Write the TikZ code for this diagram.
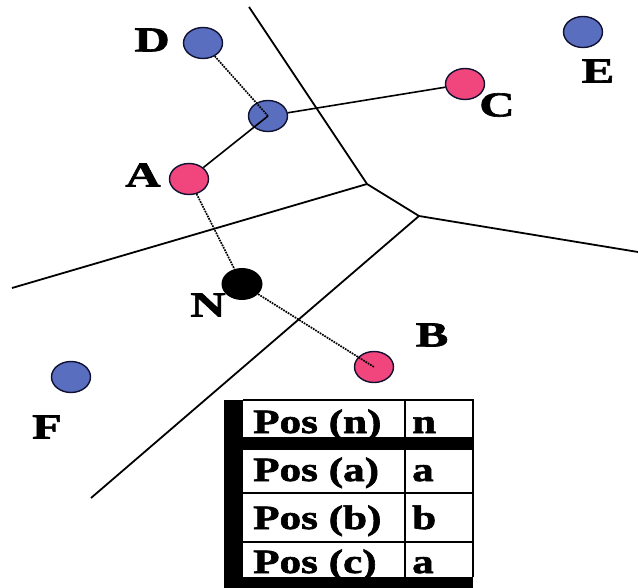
\documentclass[tikz,border=0pt]{standalone}
\usepackage{fontspec}
\usepackage{tikz}
\usetikzlibrary{shapes.geometric}
\newfontfamily\lblfont{Liberation Serif}[FakeStretch=1.4, FakeBold=1.8]
\newfontfamily\tabfont{Liberation Serif}[FakeStretch=1.27, FakeBold=1.8]
\definecolor{ptblue}{HTML}{5A6EC0}
\definecolor{ptpink}{HTML}{F0457D}
\definecolor{ptedge}{HTML}{101030}
\tikzset{
  site/.style={ellipse, draw=ptedge, line width=1.4pt, minimum width=39pt, minimum height=31pt, inner sep=0pt},
  bluept/.style={site, fill=ptblue},
  pinkpt/.style={site, fill=ptpink},
  querypt/.style={ellipse, fill=black, minimum width=41pt, minimum height=32pt, inner sep=0pt},
  ptlab/.style={font=\lblfont\bfseries\fontsize{35}{40}\selectfont, inner sep=0pt},
  edge/.style={draw=black, line width=1.8pt},
  link/.style={draw=black, line width=1.6pt},
  dlink/.style={draw=black, densely dotted, line width=1.7pt},
  cell/.style={font=\tabfont\bfseries\fontsize{34}{38}\selectfont, anchor=base west, inner sep=0pt},
  rule/.style={draw=black, line width=1.6pt}
}
\begin{document}
\begin{tikzpicture}[x=1pt, y=-1pt]
  \useasboundingbox (0,0) rectangle (638,588);

  \coordinate (V1) at (367,184);
  \coordinate (V2) at (419,216);
  \coordinate (Etop) at (249,7);
  \coordinate (Eleft) at (12,288);
  \coordinate (Eright) at (638,252);
  \coordinate (Ebot) at (91,498);

  \draw[edge] (Etop)--(V1)--(V2)--(Eright);
  \draw[edge] (Eleft)--(V1);
  \draw[edge] (V2)--(Ebot);

  \node[bluept] (D) at (203,43) {};
  \node[bluept] (mid) at (268,116) {};
  \node[pinkpt] (A) at (189,179) {};
  \node[pinkpt] (C) at (465,84) {};
  \node[bluept] (E) at (583,32) {};
  \node[querypt] (N) at (242,284) {};
  \node[pinkpt] (B) at (374,367) {};
  \node[bluept] (F) at (71,377) {};

  \draw[link] (mid)--(C);
  \draw[link] (mid.center)--(A);
  \draw[dlink] (D)--(mid.center);
  \draw[dlink] (A)--(N);
  \draw[dlink] (N)--(B.center);

  \node[ptlab] (labD) at (152,40) {D};
  \node[ptlab] (labA) at (143,175) {A};
  \node[ptlab] (labN) at (208,305) {N};
  \node[ptlab] (labC) at (497,105) {C};
  \node[ptlab] (labE) at (598,71) {E};
  \node[ptlab] (labF) at (47,427) {F};
  \node[ptlab] (labB) at (432,335) {B};

  \fill[black] (224,400) rectangle (243,588);
  \fill[black] (224,437) rectangle (473,450);
  \fill[black] (224,577) rectangle (473,588);
  \draw[rule] (243,400)--(473,400)--(473,577);
  \draw[rule] (405,400)--(405,577);
  \draw[rule] (243,493)--(473,493);
  \draw[rule] (243,542)--(473,542);

  \node[cell] (keyN) at (253,433) {Pos (n)};
  \node[cell] (valN) at (412,433) {n};
  \node[cell] (keyA) at (253,481) {Pos (a)};
  \node[cell] (valA) at (412,481) {a};
  \node[cell] (keyB) at (253,529) {Pos (b)};
  \node[cell] (valB) at (412,529) {b};
  \node[cell] (keyC) at (253,573) {Pos (c)};
  \node[cell] (valC) at (412,573) {a};
\end{tikzpicture}
\end{document}
